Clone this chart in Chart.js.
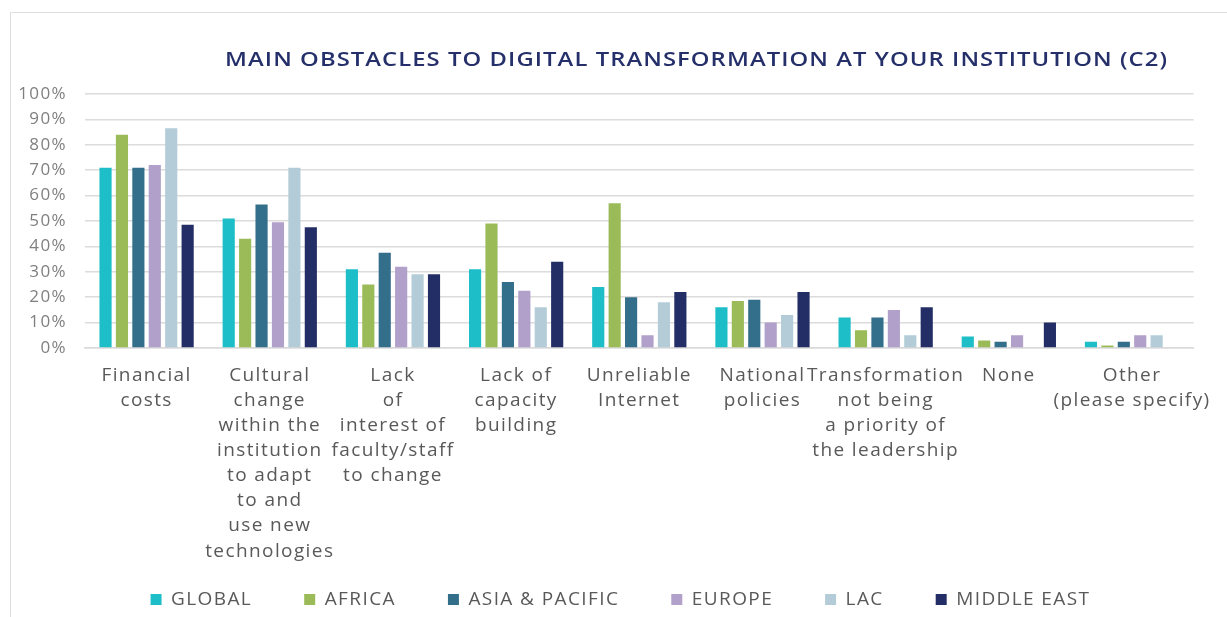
<!DOCTYPE html>
<html>
<head>
<meta charset="utf-8">
<script src="https://cdn.jsdelivr.net/npm/chart.js@4"></script>
<style>
  html,body{margin:0;padding:0;background:#fff;}
  #wrap{position:relative;width:1227px;height:617px;overflow:hidden;}
  #frame{position:absolute;left:10px;top:12px;width:1240px;height:640px;border:1px solid #dedede;box-sizing:border-box;}
  #title{position:absolute;left:225px;top:45px;font-family:"Open Sans",sans-serif;font-weight:600;font-size:20px;color:#25306a;white-space:nowrap;transform-origin:0 50%;}
  canvas{position:absolute;left:0;top:0;}
</style>
</head>
<body>
<div id="wrap">
  <div id="frame"></div>
  <canvas id="c" width="1227" height="617"></canvas>
  <div id="title">MAIN OBSTACLES TO DIGITAL TRANSFORMATION AT YOUR INSTITUTION (C2)</div>
</div>
<script>
const categories = [
  ['Financial','costs'],
  ['Cultural','change','within the','institution','to adapt','to and','use new','technologies'],
  ['Lack','of','interest of','faculty/staff','to change'],
  ['Lack of','capacity','building'],
  ['Unreliable','Internet'],
  ['National','policies'],
  ['Transformation','not being','a priority of','the leadership'],
  ['None'],
  ['Other','(please specify)']
];
const seriesNames = ['GLOBAL','AFRICA','ASIA & PACIFIC','EUROPE','LAC','MIDDLE EAST'];
const globalVals    = [71, 51, 31, 31, 24, 16, 12, 4.5, 2.5];
const africaVals    = [84, 43, 25, 49, 57, 18.5, 7, 3, 1];
const asiaVals      = [71, 56.5, 37.5, 26, 20, 19, 12, 2.5, 2.5];
const europeVals    = [72, 49.5, 32, 22.5, 5, 10, 15, 5, 5];
const lacVals       = [86.5, 71, 29, 16, 18, 13, 5, 0, 5];
const middleEastVals= [48.5, 47.5, 29, 34, 22, 22, 16, 10, 0];
const colors = ['#1dbec7','#9bbb59','#336e8b','#b1a0c9','#b3ccd7','#232e67'];

// widen the title to the width it has in the reference (mix of spacing and stretch)
(function(){
  const t=document.getElementById('title');
  const target=943, n=t.textContent.length;
  t.style.letterSpacing='0.9px';
  const w=t.getBoundingClientRect().width;
  t.style.transform='scaleX('+(target/w)+')';
})();

const seriesData = [globalVals, africaVals, asiaVals, europeVals, lacVals, middleEastVals];
const datasets = seriesNames.map((n,i)=>({
  label:n, data:seriesData[i], backgroundColor:colors[i], borderWidth:0,
  categoryPercentage:0.8, barPercentage:0.74
}));

const spacing = {
  id:'spacing',
  beforeLayout(chart){ chart.ctx.letterSpacing='1.4px'; },
  beforeDraw(chart){ chart.ctx.letterSpacing='1.4px'; },
  afterLayout(chart){
    const l=chart.legend;
    if(l){ l.left+=20; l.right+=20; l.top+=2; l.bottom+=2; }
    const x=chart.scales.x;
    if(x){ x.bottom=chart.height; }
  }
};

const F='"Open Sans", sans-serif';
new Chart(document.getElementById('c'), {
  type:'bar',
  data:{labels:categories, datasets},
  plugins:[spacing],
  options:{
    responsive:false, animation:false,
    layout:{padding:{left:0,right:26,top:94,bottom:0}},
    plugins:{
      title:{display:false},
      tooltip:{enabled:false},
      legend:{
        position:'bottom',
        labels:{boxWidth:11,boxHeight:11,padding:52,color:'#595959',
          font:{family:F,size:19}}
      }
    },
    scales:{
      x:{
        grid:{display:false,drawTicks:false},
        border:{display:true,color:'#d9d9d9',width:1.5},
        ticks:{autoSkip:false,maxRotation:0,minRotation:0,padding:15,color:'#595959',
          font:{family:F,size:19,lineHeight:1.32}},
        afterFit:(s)=>{s.height=188;}
      },
      y:{
        min:0,max:100,
        grid:{color:'#dcdcdc',lineWidth:1.5,drawTicks:false},
        border:{display:false},
        ticks:{stepSize:10,autoSkip:false,padding:18,color:'#7f7f7f',callback:v=>v+'%',
          font:{family:F,size:17}},
        afterFit:(s)=>{s.width=85;}
      }
    }
  }
});
</script>
</body>
</html>
